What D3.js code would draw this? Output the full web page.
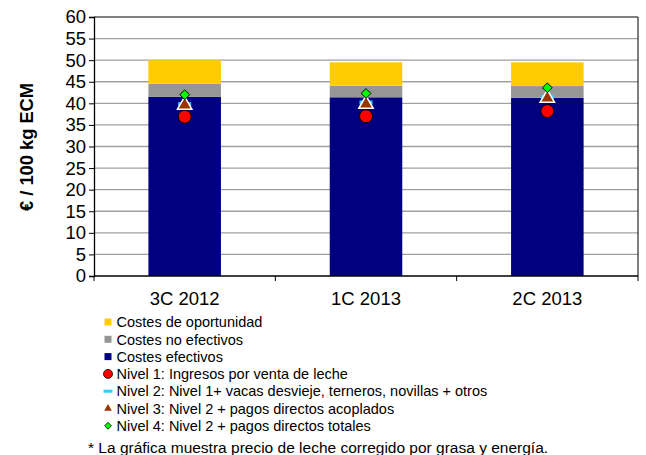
<!DOCTYPE html>
<html>
<head>
<meta charset="utf-8">
<script src="https://cdn.jsdelivr.net/npm/d3@7"></script>
<style>
  body { margin: 0; background: #fff; }
  text { font-family: "Liberation Sans", Arial, sans-serif; fill: #000; }
</style>
</head>
<body>
<div id="chart"></div>
<script>
const categories = ["3C 2012", "1C 2013", "2C 2013"];
const costesEfectivos = [41.5, 41.4, 41.3];
const costesNoEfectivos = [3.0, 2.7, 2.7];
const costesOportunidad = [5.5, 5.4, 5.5];
const nivel1 = [36.9, 37.0, 38.2];
const nivel2 = [39.8, 40.2, 41.5];
const nivel3 = [39.6, 39.8, 41.2];
const nivel4 = [42.0, 42.3, 43.6];
const yTicks = d3.range(0, 61, 5);
const legendLabels = [
  "Costes de oportunidad",
  "Costes no efectivos",
  "Costes efectivos",
  "Nivel 1: Ingresos por venta de leche",
  "Nivel 2: Nivel 1+ vacas desvieje, terneros, novillas + otros",
  "Nivel 3: Nivel 2 + pagos directos acoplados",
  "Nivel 4: Nivel 2 + pagos directos totales"
];
const footnote = "* La gráfica muestra precio de leche corregido por grasa y energía.";

const width = 646, height = 455;
const margin = { top: 17, left: 94, right: 8, bottom: 179 };

const svg = d3.select("#chart").append("svg")
  .attr("width", width)
  .attr("height", height);

const x = d3.scaleBand()
  .domain(categories)
  .range([margin.left, width - margin.right])
  .paddingInner(0.6)
  .paddingOuter(0.3);

const y = d3.scaleLinear()
  .domain([0, 60])
  .range([height - margin.bottom, margin.top]);

// grid
svg.append("g")
  .selectAll("line")
  .data(yTicks.filter(d => d > 0))
  .enter()
  .append("line")
  .attr("x1", margin.left)
  .attr("x2", width - margin.right)
  .attr("y1", d => y(d))
  .attr("y2", d => y(d))
  .attr("stroke", d => d === 60 ? "#555" : "#a0a0a0")
  .attr("stroke-width", 1.3);

// right border
svg.append("line")
  .attr("x1", width - margin.right).attr("x2", width - margin.right)
  .attr("y1", y(60)).attr("y2", y(0))
  .attr("stroke", "#000");

// stacked bars
const rows = categories.map((c, i) => ({
  cat: c,
  efectivos: costesEfectivos[i],
  noEfectivos: costesNoEfectivos[i],
  oportunidad: costesOportunidad[i]
}));
const keys = ["efectivos", "noEfectivos", "oportunidad"];
const colors = { efectivos: "#000080", noEfectivos: "#969696", oportunidad: "#FFCC00" };
const stacked = d3.stack().keys(keys)(rows);

svg.append("g")
  .selectAll("g")
  .data(stacked)
  .enter()
  .append("g")
  .attr("fill", d => colors[d.key])
  .selectAll("rect")
  .data(d => d)
  .enter()
  .append("rect")
  .attr("x", d => x(d.data.cat))
  .attr("width", x.bandwidth())
  .attr("y", d => y(d[1]))
  .attr("height", d => y(d[0]) - y(d[1]));

// axes
const yAxis = svg.append("g")
  .attr("transform", `translate(${margin.left},0)`)
  .call(d3.axisLeft(y).tickValues(yTicks).tickSize(5).tickPadding(3));
yAxis.select(".domain").attr("stroke", "#000").attr("stroke-width", 1.3);
yAxis.selectAll(".tick line").attr("stroke", "#000");
yAxis.selectAll("text").attr("font-size", 18.5).style("font-family", "Liberation Sans, Arial, sans-serif");

const xAxisG = svg.append("g").attr("transform", `translate(0,${y(0)})`);
xAxisG.append("line")
  .attr("x1", margin.left).attr("x2", width - margin.right)
  .attr("stroke", "#000").attr("stroke-width", 1.3);
const step = (width - margin.right - margin.left) / categories.length;
xAxisG.selectAll(".xt")
  .data(d3.range(categories.length + 1))
  .enter()
  .append("line")
  .attr("x1", d => margin.left + d * step)
  .attr("x2", d => margin.left + d * step)
  .attr("y1", 0).attr("y2", 5)
  .attr("stroke", "#000");
xAxisG.selectAll(".xl")
  .data(categories)
  .enter()
  .append("text")
  .attr("x", d => x(d) + x.bandwidth() / 2)
  .attr("y", 29)
  .attr("text-anchor", "middle")
  .attr("font-size", 18.5)
  .text(d => d);

// y title
svg.append("text")
  .attr("transform", `translate(33,147) rotate(-90)`)
  .attr("text-anchor", "middle")
  .attr("font-size", 18.3)
  .attr("font-weight", "bold")
  .text("€ / 100 kg ECM");

// markers
const cx = i => x(categories[i]) + x.bandwidth() / 2;
const marks = svg.append("g");

marks.selectAll(".n1")
  .data(nivel1).enter().append("circle")
  .attr("cx", (d, i) => cx(i)).attr("cy", d => y(d))
  .attr("r", 6.5).attr("fill", "#FF0000").attr("stroke", "#000").attr("stroke-width", 1);

marks.selectAll(".n2")
  .data(nivel2).enter().append("rect")
  .attr("x", (d, i) => cx(i) - 6.5).attr("y", d => y(d) - 2)
  .attr("width", 13).attr("height", 4)
  .attr("fill", "#33CCFF");

const tri = d3.symbol().type(d3.symbolTriangle).size(90);
marks.selectAll(".n3")
  .data(nivel3).enter().append("path")
  .attr("d", tri)
  .attr("transform", (d, i) => `translate(${cx(i)},${y(d)})`)
  .attr("fill", "#993300").attr("stroke", "#fff").attr("stroke-width", 1.5);

const dia = d3.symbol().type(d3.symbolDiamond2).size(60);
marks.selectAll(".n4")
  .data(nivel4).enter().append("path")
  .attr("d", dia)
  .attr("transform", (d, i) => `translate(${cx(i)},${y(d)})`)
  .attr("fill", "#00FF00").attr("stroke", "#000").attr("stroke-width", 1);

// legend
const legend = svg.append("g").attr("transform", "translate(108,322)");
const rowH = 17.3;
const item = legend.selectAll("g")
  .data(legendLabels)
  .enter()
  .append("g")
  .attr("transform", (d, i) => `translate(0,${i * rowH})`);

item.append("text")
  .attr("x", 8.5)
  .attr("y", 5.2)
  .attr("font-size", 14.5)
  .text(d => d);

const sqColors = ["#FFCC00", "#969696", "#000080"];
item.filter((d, i) => i < 3)
  .append("rect")
  .attr("x", -3.5).attr("y", -3.5).attr("width", 7).attr("height", 7)
  .attr("fill", (d, i) => sqColors[i]);

legend.append("circle")
  .attr("cx", 0).attr("cy", 3 * rowH).attr("r", 4.5)
  .attr("fill", "#FF0000").attr("stroke", "#000").attr("stroke-width", 0.8);
legend.append("rect")
  .attr("x", -4.5).attr("y", 4 * rowH - 1.5).attr("width", 9).attr("height", 3)
  .attr("fill", "#33CCFF");
legend.append("path")
  .attr("d", d3.symbol().type(d3.symbolTriangle).size(25))
  .attr("transform", `translate(0,${5 * rowH})`)
  .attr("fill", "#993300");
legend.append("path")
  .attr("d", d3.symbol().type(d3.symbolDiamond2).size(30))
  .attr("transform", `translate(0,${6 * rowH})`)
  .attr("fill", "#00FF00").attr("stroke", "#000").attr("stroke-width", 0.8);

svg.append("text")
  .attr("x", 88)
  .attr("y", 453)
  .attr("font-size", 15.5)
  .text(footnote);
</script>
</body>
</html>
